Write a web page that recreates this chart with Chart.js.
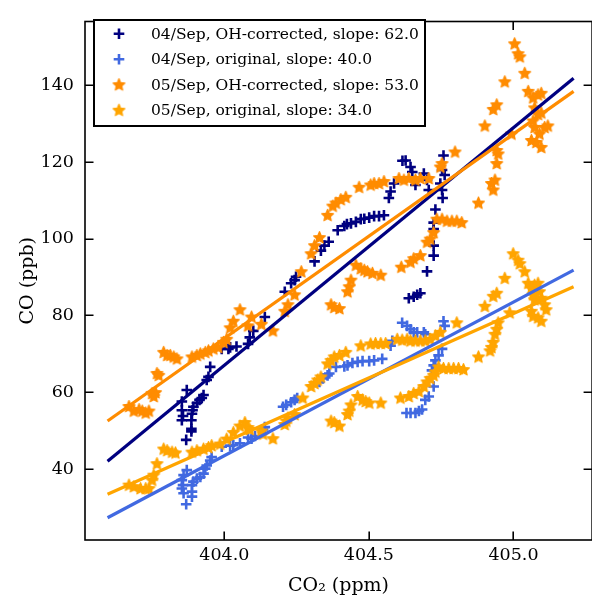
<!DOCTYPE html>
<html><head><meta charset="utf-8">
<script src="https://cdn.jsdelivr.net/npm/chart.js@4.4.1/dist/chart.umd.min.js"></script>
<style>
html,body{margin:0;padding:0;background:#fff;overflow:hidden;width:592px;height:598px}
#wrap{width:600px;height:598px;position:relative}
canvas{display:block}
</style>
</head><body><div id="wrap"><canvas id="c" width="600" height="598" style="width:600px;height:598px"></canvas></div>
<script>
// ---------- data ----------
const xTicks = [404.0, 404.5, 405.0];
const yTicks = [40, 60, 80, 100, 120, 140];
const seriesLabels = [
  '04/Sep, OH-corrected, slope: 62.0',
  '04/Sep, original, slope: 40.0',
  '05/Sep, OH-corrected, slope: 53.0',
  '05/Sep, original, slope: 34.0'
];
const xTitle = 'CO\u2082 (ppm)';
const yTitle = 'CO (ppb)';

const sep04CorrCO2 = [403.868,403.886,403.886,403.886,403.853,403.857,403.853,403.853,403.870,403.888,
  403.890,403.893,403.905,403.914,403.922,403.928,403.939,403.945,403.951,403.991,
  404.014,404.020,404.042,404.082,404.088,404.100,404.140,404.209,404.231,404.243,
  404.248,404.312,404.334,404.346,404.361,404.392,404.415,404.424,404.438,404.455,
  404.472,404.484,404.501,404.518,404.535,404.552,404.569,404.575,404.587,404.616,
  404.627,404.644,404.650,404.661,404.690,404.701,404.707,404.758,404.753,404.762,
  404.747,404.753,404.755,404.730,404.724,404.724,404.724,404.724,404.701,404.638,
  404.655,404.667,404.678];
const sep04CorrCO = [47.6,49.8,50.5,52.7,52.7,53.8,55.3,57.6,60.6,54.4,
  55.3,56.2,57.2,58.0,58.5,59.3,63.2,64.0,66.6,71.3,
  71.3,71.7,71.9,72.6,74.3,76.0,79.6,86.2,88.4,89.2,
  90.1,94.1,96.9,98.2,99.2,102.2,103.3,103.8,104.0,104.4,
  105.1,105.2,105.5,105.9,105.9,106.1,110.6,112.3,114.4,120.3,
  120.4,118.7,117.4,114.0,117.0,115.3,112.7,121.7,117.9,116.6,
  114.4,112.7,110.6,107.6,104.2,102.5,98.2,95.6,91.5,84.5,
  84.9,85.4,85.8];

const sep04OrigCO2 = [403.868,403.888,403.888,403.888,403.859,403.853,403.857,403.853,403.859,403.870,
  403.893,403.905,403.917,403.928,403.934,403.939,403.951,403.956,403.991,404.020,
  404.031,404.054,404.082,404.094,404.106,404.134,404.140,404.203,404.214,404.231,
  404.243,404.252,404.329,404.340,404.357,404.363,404.386,404.415,404.426,404.443,
  404.461,404.478,404.501,404.518,404.546,404.575,404.581,404.615,404.632,404.644,
  404.655,404.667,404.690,404.695,404.758,404.762,404.753,404.741,404.730,404.724,
  404.718,404.724,404.707,404.695,404.644,404.661,404.673,404.684,404.630];
const sep04OrigCO = [30.8,32.8,34.1,35.8,33.7,34.9,35.8,37.1,38.4,39.7,
  36.7,37.5,37.9,38.8,40.1,40.9,42.2,43.1,45.8,46.1,
  46.2,46.7,48.2,47.9,48.6,50.3,50.9,56.2,56.7,57.4,
  58.0,58.5,62.7,63.6,64.4,64.9,66.6,66.7,67.0,67.6,
  67.9,68.1,68.1,68.3,68.7,72.1,73.4,78.1,77.3,76.4,
  75.6,75.6,75.6,75.1,78.5,77.3,71.3,69.6,68.3,67.0,
  65.7,61.5,58.9,58.0,54.6,54.6,55.1,55.5,54.6];

const sep05CorrCO2 = [403.670,403.687,403.705,403.716,403.728,403.739,403.750,403.756,403.762,403.767,
  403.773,403.790,403.802,403.813,403.825,403.836,403.888,403.905,403.917,403.934,
  403.945,403.962,403.979,403.997,404.008,404.020,404.031,404.054,404.082,404.094,
  404.128,404.168,404.209,404.220,404.243,404.266,404.300,404.312,404.329,404.357,
  404.375,404.386,404.403,404.420,404.466,404.506,404.518,404.535,404.552,404.604,
  404.621,404.638,404.661,404.678,404.707,404.747,404.753,404.798,404.455,404.472,
  404.484,404.495,404.512,404.541,404.612,404.438,404.432,404.426,404.369,404.380,
  404.398,404.735,404.753,404.770,404.787,404.804,404.821,404.724,404.712,404.701,
  404.678,404.655,404.644,404.879,404.930,404.924,404.936,404.942,404.947,404.942,
  404.993,404.901,404.930,404.942,404.970,405.004,405.016,405.022,405.039,405.051,
  405.068,405.085,405.096,405.073,405.085,405.096,405.068,405.073,405.108,405.119,
  405.090,405.062,405.079,405.096];
const sep05CorrCO = [56.3,55.1,55.5,55.1,54.6,55.1,59.7,58.9,59.9,64.9,
  64.4,70.4,69.6,69.6,69.2,68.7,69.2,69.6,70.0,70.4,
  70.8,71.3,71.7,73.0,73.8,76.8,78.5,81.5,77.3,79.6,
  77.7,76.0,81.1,82.8,85.4,91.4,96.1,98.2,100.3,106.1,
  108.5,109.3,110.2,110.8,113.4,114.0,114.4,114.4,114.9,115.7,
  115.3,115.7,115.3,115.7,115.7,118.7,119.6,122.6,93.1,92.2,
  91.8,91.4,91.0,90.5,92.6,89.2,87.5,86.2,82.8,82.1,
  81.8,105.1,105.1,104.6,104.6,104.6,104.2,101.6,99.9,99.1,
  95.6,94.8,93.9,109.3,112.7,114.4,115.3,119.6,122.1,123.0,
  127.3,129.4,133.7,134.9,140.9,150.8,148.2,147.4,143.1,138.4,
  136.7,137.5,137.9,134.1,132.4,132.8,130.7,129.0,129.0,129.4,
  127.3,125.6,125.1,123.8];

const sep05OrigCO2 = [403.670,403.687,403.710,403.728,403.739,403.750,403.756,403.767,403.790,403.802,
  403.819,403.831,403.888,403.905,403.928,403.945,403.956,403.985,404.008,404.031,
  404.054,404.071,404.082,404.088,404.128,404.134,404.168,404.209,404.214,404.220,
  404.243,404.271,404.300,404.312,404.323,404.334,404.357,404.369,404.380,404.398,
  404.420,404.472,404.506,404.523,404.541,404.558,404.598,404.615,404.632,404.644,
  404.661,404.678,404.695,404.712,404.730,404.747,404.804,404.461,404.478,404.489,
  404.501,404.541,404.609,404.438,404.432,404.426,404.369,404.380,404.398,404.741,
  404.758,404.776,404.793,404.810,404.827,404.730,404.724,404.712,404.701,404.690,
  404.673,404.655,404.638,404.879,404.919,404.924,404.930,404.936,404.942,404.947,
  404.987,404.901,404.930,404.942,404.970,404.999,405.016,405.022,405.039,405.051,
  405.062,405.073,405.085,405.090,405.068,405.073,405.096,405.108,405.113,405.062,
  405.068,405.085,405.096];
const sep05OrigCO = [35.8,35.4,34.9,34.9,34.9,37.1,38.4,41.4,45.2,44.8,
  44.4,44.2,44.4,44.8,45.2,45.6,46.1,46.5,47.8,49.5,
  51.2,52.1,50.8,50.3,49.9,49.1,47.9,51.6,52.5,53.3,
  54.2,58.5,61.5,62.3,63.2,64.0,67.4,68.3,69.2,69.6,
  70.4,72.1,72.6,72.7,72.7,72.7,73.8,73.6,73.8,73.4,
  73.4,73.4,73.4,73.8,74.7,75.6,78.1,58.9,58.0,57.6,
  57.2,57.2,58.5,56.7,55.1,54.2,52.5,52.1,51.2,66.6,
  66.2,66.2,66.2,66.2,65.9,65.3,64.4,63.6,62.7,61.5,
  60.2,59.7,58.9,69.2,70.8,71.7,73.0,75.1,76.4,78.1,
  80.7,82.4,85.0,85.8,89.7,96.1,94.4,93.5,91.4,88.4,
  87.1,87.9,88.4,86.2,85.4,84.1,84.5,82.8,81.5,81.1,
  79.8,79.4,78.5];

// regression lines (endpoints)
const fitCO2 = [403.596, 405.208];
const fit04Corr = [42.0, 141.8];
const fit04Orig = [27.3, 91.8];
const fit05Corr = [52.5, 138.4];
const fit05Orig = [33.4, 87.5];

// ---------- styles ----------
const C_NAVY = '#000080', C_ROYAL = '#4169E1', C_DORANGE = '#FF8C00', C_ORANGE = '#FFA500';
const SERIF = '"DejaVu Serif", serif';

function starCanvas(color){
  const c = document.createElement('canvas');
  c.width = 15; c.height = 15;
  const g = c.getContext('2d');
  g.translate(7.5, 7.8);
  g.beginPath();
  for (let k = 0; k < 10; k++){
    const r = (k % 2) ? 2.9 : 6.2;
    const a = -Math.PI/2 + k*Math.PI/5;
    g.lineTo(r*Math.cos(a), r*Math.sin(a));
  }
  g.closePath();
  g.fillStyle = color; g.fill();
  g.lineJoin = 'round'; g.lineWidth = 1.2; g.strokeStyle = color; g.stroke();
  return c;
}
const starDO = starCanvas(C_DORANGE), starO = starCanvas(C_ORANGE);

const pts = (xs, ys) => xs.slice(0, Math.min(xs.length, ys.length)).map((x, i) => ({x: x, y: ys[i]}));

function scatterDS(label, xs, ys, color, style, order){
  return {type:'scatter', label, data: pts(xs, ys), order,
    pointStyle: style, pointRadius: style === 'cross' ? 5.3 : 6, borderWidth: style === 'cross' ? 2.6 : 0,
    borderColor: color, backgroundColor: color, pointHoverRadius: 0, showLine:false, _marker: style === 'cross' ? 'cross' : 'star', _color: color};
}
function lineDS(ys, color, order){
  return {type:'line', label:'', data: pts(fitCO2, ys), order, borderColor: color, borderWidth: 3.2,
    pointRadius: 0, fill:false, tension:0, _fit:true};
}

const datasets = [
  scatterDS(seriesLabels[0], sep04CorrCO2, sep04CorrCO, C_NAVY, 'cross', 8),
  scatterDS(seriesLabels[1], sep04OrigCO2, sep04OrigCO, C_ROYAL, 'cross', 7),
  scatterDS(seriesLabels[2], sep05CorrCO2, sep05CorrCO, C_DORANGE, starDO, 6),
  scatterDS(seriesLabels[3], sep05OrigCO2, sep05OrigCO, C_ORANGE, starO, 5),
  lineDS(fit04Corr, C_NAVY, 4),
  lineDS(fit04Orig, C_ROYAL, 3),
  lineDS(fit05Corr, C_DORANGE, 2),
  lineDS(fit05Orig, C_ORANGE, 1)
];

const TICK_LEN = 8.5;
const framePlugin = {
  id: 'framePlugin',
  afterDraw(chart){
    const ctx = chart.ctx, a = chart.chartArea;
    const xs = chart.scales.x, ys = chart.scales.y;
    ctx.save();
    ctx.strokeStyle = '#000'; ctx.lineWidth = 1.6; ctx.lineCap = 'butt';
    ctx.beginPath();
    xTicks.forEach(v => { const p = Math.round(xs.getPixelForValue(v)) + 0.2;
      ctx.moveTo(p, a.bottom); ctx.lineTo(p, a.bottom - TICK_LEN);
      ctx.moveTo(p, a.top); ctx.lineTo(p, a.top + TICK_LEN); });
    yTicks.forEach(v => { const p = Math.round(ys.getPixelForValue(v)) + 0.2;
      ctx.moveTo(a.left, p); ctx.lineTo(a.left + TICK_LEN, p);
      ctx.moveTo(a.right, p); ctx.lineTo(a.right - TICK_LEN, p); });
    ctx.stroke();
    ctx.strokeRect(a.left, a.top, a.right - a.left, a.bottom - a.top);

    // legend box
    const bx = 94, by = 20, bw = 331, bh = 106;
    ctx.fillStyle = '#fff';
    ctx.fillRect(bx, by, bw, bh);
    ctx.lineWidth = 2; ctx.strokeStyle = '#000';
    ctx.strokeRect(bx, by, bw, bh);
    const rowY = [33.7, 59.2, 84.7, 110.2];
    ctx.font = '15.5px ' + SERIF;
    ctx.textBaseline = 'middle'; ctx.textAlign = 'left';
    chart.data.datasets.filter(d => !d._fit).forEach((d, i) => {
      const cy = rowY[i], cx = 119;
      if (d._marker === 'cross'){
        ctx.strokeStyle = d._color; ctx.lineWidth = 2.6;
        ctx.beginPath(); ctx.moveTo(cx - 5.3, cy); ctx.lineTo(cx + 5.3, cy);
        ctx.moveTo(cx, cy - 5.3); ctx.lineTo(cx, cy + 5.3); ctx.stroke();
      } else {
        ctx.drawImage(d.pointStyle, cx - 7.5, cy - 7.5);
      }
      ctx.fillStyle = '#000';
      ctx.fillText(d.label, 151, cy + 1);
    });
    ctx.restore();
  }
};

new Chart(document.getElementById('c'), {
  data: { datasets },
  options: {
    responsive: false, animation: false, events: [],
    layout: { padding: { top: 11, right: 3, left: 0, bottom: 0 } },
    plugins: { legend: { display: false }, tooltip: { enabled: false } },
    scales: {
      x: { type: 'linear', position: 'bottom', min: 403.518, max: 405.272,
        afterBuildTicks: s => { s.ticks = xTicks.map(v => ({value: v})); },
        afterFit: s => { s.height = 58; },
        grid: { display: false, drawTicks: false }, border: { display: false },
        ticks: { callback: v => Number(v).toFixed(1), color: '#000', padding: 5, maxRotation: 0, autoSkip: false,
          font: { family: SERIF, size: 17.5 } },
        title: { display: true, text: xTitle, color: '#000', font: { family: SERIF, size: 19 }, padding: { top: 0, bottom: 1 } }
      },
      y: { type: 'linear', position: 'left', min: 21.5, max: 156.6,
        afterBuildTicks: s => { s.ticks = yTicks.map(v => ({value: v})); },
        afterFit: s => { s.width = 85; },
        grid: { display: false, drawTicks: false }, border: { display: false },
        ticks: { callback: v => String(v), color: '#000', padding: 11, autoSkip: false,
          font: { family: SERIF, size: 17.5 } },
        title: { display: true, text: yTitle, color: '#000', font: { family: SERIF, size: 19 }, padding: { top: 17, bottom: 0 } }
      }
    }
  },
  plugins: [framePlugin]
});
</script>
</body></html>
